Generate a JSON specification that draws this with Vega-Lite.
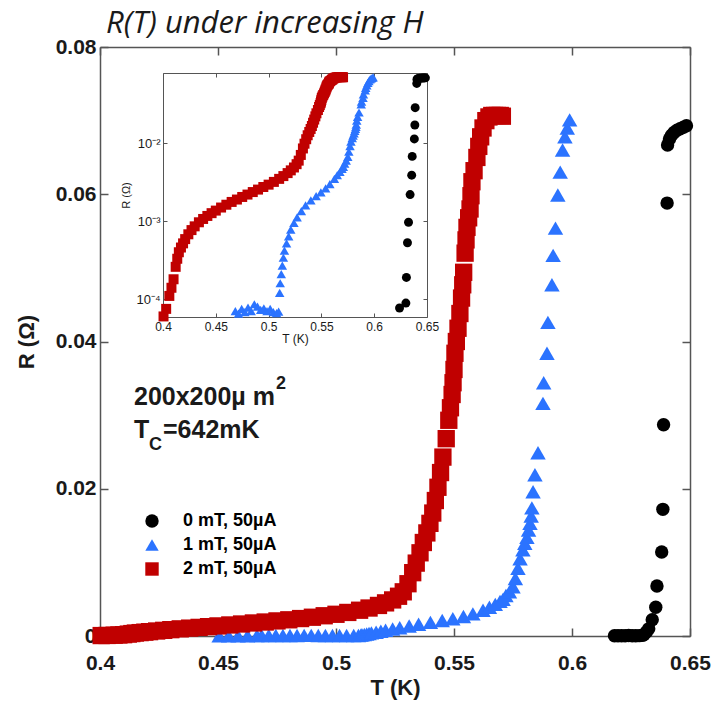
{
"$schema": "https://vega.github.io/schema/vega-lite/v6.json",
"width": 590, "height": 589,
"autosize": {"type": "none"},
"padding": {"left": 100, "top": 47, "right": 23, "bottom": 78},
"title": {"text": "R(T) under increasing H", "anchor": "start", "frame": "group", "font": "Open Sans", "fontStyle": "italic", "fontWeight": "normal", "fontSize": 31, "color": "#1a1a1a", "dx": 6, "dy": 42, "offset": 14, "baseline": "alphabetic"},
"config": {
 "view": {"stroke": null},
 "font": "Liberation Sans",
 "axis": {"grid": false, "domainColor": "#555", "domainWidth": 1.5, "tickColor": "#555", "tickWidth": 1.5, "labelFont": "Liberation Sans", "labelFontWeight": "bold", "labelColor": "#1a1a1a", "titleFont": "Liberation Sans", "titleFontWeight": "bold", "titleColor": "#1a1a1a"}
},
"datasets": {
 "pts": [
  {"series":"0 mT, 50µA","T":0.618,"R":0.00003},{"series":"0 mT, 50µA","T":0.6195,"R":0.00003},{"series":"0 mT, 50µA","T":0.621,"R":0.00003},{"series":"0 mT, 50µA","T":0.6225,"R":0.00004},{"series":"0 mT, 50µA","T":0.624,"R":0.000077},{"series":"0 mT, 50µA","T":0.6255,"R":0.00004},{"series":"0 mT, 50µA","T":0.627,"R":0.000045},{"series":"0 mT, 50µA","T":0.6285,"R":0.00005},{"series":"0 mT, 50µA","T":0.630,"R":0.000089},{"series":"0 mT, 50µA","T":0.6305,"R":0.00019},{"series":"0 mT, 50µA","T":0.6315,"R":0.00053},{"series":"0 mT, 50µA","T":0.6325,"R":0.00097},{"series":"0 mT, 50µA","T":0.634,"R":0.0022},{"series":"0 mT, 50µA","T":0.6355,"R":0.0039},{"series":"0 mT, 50µA","T":0.636,"R":0.0068},{"series":"0 mT, 50µA","T":0.638,"R":0.0114},{"series":"0 mT, 50µA","T":0.6385,"R":0.0172},{"series":"0 mT, 50µA","T":0.6388,"R":0.0287},{"series":"0 mT, 50µA","T":0.6403,"R":0.0588},{"series":"0 mT, 50µA","T":0.6405,"R":0.0667},{"series":"0 mT, 50µA","T":0.6413,"R":0.0675},{"series":"0 mT, 50µA","T":0.6422,"R":0.068},{"series":"0 mT, 50µA","T":0.6432,"R":0.0684},{"series":"0 mT, 50µA","T":0.6445,"R":0.0687},{"series":"0 mT, 50µA","T":0.6458,"R":0.0689},{"series":"0 mT, 50µA","T":0.6472,"R":0.0691},{"series":"0 mT, 50µA","T":0.6485,"R":0.0693},
  {"series":"1 mT, 50µA","T":0.4505,"R":0.00003},{"series":"1 mT, 50µA","T":0.4545,"R":0.00003},{"series":"1 mT, 50µA","T":0.4585,"R":0.000035},{"series":"1 mT, 50µA","T":0.4625,"R":0.00004},{"series":"1 mT, 50µA","T":0.4665,"R":0.00005},{"series":"1 mT, 50µA","T":0.4685,"R":0.00007},{"series":"1 mT, 50µA","T":0.4715,"R":0.000065},{"series":"1 mT, 50µA","T":0.4745,"R":0.000075},{"series":"1 mT, 50µA","T":0.4775,"R":0.000068},{"series":"1 mT, 50µA","T":0.4805,"R":0.000078},{"series":"1 mT, 50µA","T":0.4835,"R":0.00007},{"series":"1 mT, 50µA","T":0.4865,"R":0.000086},{"series":"1 mT, 50µA","T":0.4895,"R":0.00008},{"series":"1 mT, 50µA","T":0.4925,"R":0.000073},{"series":"1 mT, 50µA","T":0.4955,"R":0.000076},{"series":"1 mT, 50µA","T":0.4985,"R":0.00007},{"series":"1 mT, 50µA","T":0.5015,"R":0.000075},{"series":"1 mT, 50µA","T":0.5045,"R":0.000068},{"series":"1 mT, 50µA","T":0.5075,"R":0.000066},{"series":"1 mT, 50µA","T":0.5095,"R":0.000069},
  {"series":"1 mT, 50µA","T":0.5105,"R":0.00012},{"series":"1 mT, 50µA","T":0.511,"R":0.00016},{"series":"1 mT, 50µA","T":0.512,"R":0.00021},{"series":"1 mT, 50µA","T":0.513,"R":0.00027},{"series":"1 mT, 50µA","T":0.514,"R":0.00034},{"series":"1 mT, 50µA","T":0.515,"R":0.00042},{"series":"1 mT, 50µA","T":0.517,"R":0.00052},{"series":"1 mT, 50µA","T":0.519,"R":0.00064},{"series":"1 mT, 50µA","T":0.521,"R":0.00078},{"series":"1 mT, 50µA","T":0.524,"R":0.00095},{"series":"1 mT, 50µA","T":0.527,"R":0.00112},{"series":"1 mT, 50µA","T":0.531,"R":0.00135},{"series":"1 mT, 50µA","T":0.535,"R":0.0016},{"series":"1 mT, 50µA","T":0.540,"R":0.00185},{"series":"1 mT, 50µA","T":0.545,"R":0.0021},{"series":"1 mT, 50µA","T":0.5495,"R":0.00235},{"series":"1 mT, 50µA","T":0.554,"R":0.00265},{"series":"1 mT, 50µA","T":0.558,"R":0.003},{"series":"1 mT, 50µA","T":0.5623,"R":0.0035},{"series":"1 mT, 50µA","T":0.565,"R":0.0039},{"series":"1 mT, 50µA","T":0.5675,"R":0.0043},{"series":"1 mT, 50µA","T":0.5695,"R":0.0047},{"series":"1 mT, 50µA","T":0.5708,"R":0.005},{"series":"1 mT, 50µA","T":0.572,"R":0.0055},{"series":"1 mT, 50µA","T":0.5735,"R":0.006},{"series":"1 mT, 50µA","T":0.575,"R":0.0067},{"series":"1 mT, 50µA","T":0.576,"R":0.0078},{"series":"1 mT, 50µA","T":0.5771,"R":0.0092},{"series":"1 mT, 50µA","T":0.578,"R":0.0105},{"series":"1 mT, 50µA","T":0.5792,"R":0.0117},{"series":"1 mT, 50µA","T":0.58,"R":0.0126},{"series":"1 mT, 50µA","T":0.5809,"R":0.0134},{"series":"1 mT, 50µA","T":0.5816,"R":0.0144},{"series":"1 mT, 50µA","T":0.5822,"R":0.0153},{"series":"1 mT, 50µA","T":0.5827,"R":0.0163},{"series":"1 mT, 50µA","T":0.583,"R":0.0174},{"series":"1 mT, 50µA","T":0.5835,"R":0.0196},{"series":"1 mT, 50µA","T":0.5843,"R":0.0219},{"series":"1 mT, 50µA","T":0.5856,"R":0.0249},{"series":"1 mT, 50µA","T":0.5877,"R":0.0316},{"series":"1 mT, 50µA","T":0.588,"R":0.0344},{"series":"1 mT, 50µA","T":0.5894,"R":0.0384},{"series":"1 mT, 50µA","T":0.5898,"R":0.0426},{"series":"1 mT, 50µA","T":0.5915,"R":0.0477},{"series":"1 mT, 50µA","T":0.592,"R":0.0517},{"series":"1 mT, 50µA","T":0.593,"R":0.0554},{"series":"1 mT, 50µA","T":0.594,"R":0.0599},{"series":"1 mT, 50µA","T":0.595,"R":0.063},{"series":"1 mT, 50µA","T":0.596,"R":0.066},{"series":"1 mT, 50µA","T":0.597,"R":0.0678},{"series":"1 mT, 50µA","T":0.598,"R":0.069},{"series":"1 mT, 50µA","T":0.599,"R":0.0701},
  {"series":"2 mT, 50µA","T":0.4005,"R":0.00006},{"series":"2 mT, 50µA","T":0.403,"R":0.000075},{"series":"2 mT, 50µA","T":0.406,"R":0.00011},{"series":"2 mT, 50µA","T":0.408,"R":0.00014},{"series":"2 mT, 50µA","T":0.41,"R":0.00018},{"series":"2 mT, 50µA","T":0.412,"R":0.00026},{"series":"2 mT, 50µA","T":0.4135,"R":0.00033},{"series":"2 mT, 50µA","T":0.415,"R":0.0004},{"series":"2 mT, 50µA","T":0.417,"R":0.00046},{"series":"2 mT, 50µA","T":0.419,"R":0.00052},{"series":"2 mT, 50µA","T":0.421,"R":0.00059},{"series":"2 mT, 50µA","T":0.424,"R":0.00068},{"series":"2 mT, 50µA","T":0.427,"R":0.00077},{"series":"2 mT, 50µA","T":0.43,"R":0.00086},{"series":"2 mT, 50µA","T":0.434,"R":0.00097},{"series":"2 mT, 50µA","T":0.438,"R":0.00107},{"series":"2 mT, 50µA","T":0.442,"R":0.00117},{"series":"2 mT, 50µA","T":0.446,"R":0.00127},{"series":"2 mT, 50µA","T":0.45,"R":0.00137},{"series":"2 mT, 50µA","T":0.455,"R":0.0015},{"series":"2 mT, 50µA","T":0.46,"R":0.00163},{"series":"2 mT, 50µA","T":0.465,"R":0.00177},{"series":"2 mT, 50µA","T":0.47,"R":0.0019},{"series":"2 mT, 50µA","T":0.475,"R":0.00205},{"series":"2 mT, 50µA","T":0.48,"R":0.0022},{"series":"2 mT, 50µA","T":0.485,"R":0.00237},{"series":"2 mT, 50µA","T":0.49,"R":0.00255},{"series":"2 mT, 50µA","T":0.495,"R":0.00275},{"series":"2 mT, 50µA","T":0.5,"R":0.00295},{"series":"2 mT, 50µA","T":0.505,"R":0.0032},{"series":"2 mT, 50µA","T":0.51,"R":0.0035},{"series":"2 mT, 50µA","T":0.514,"R":0.0038},{"series":"2 mT, 50µA","T":0.518,"R":0.00415},{"series":"2 mT, 50µA","T":0.521,"R":0.0045},{"series":"2 mT, 50µA","T":0.524,"R":0.0049},{"series":"2 mT, 50µA","T":0.5265,"R":0.0054},{"series":"2 mT, 50µA","T":0.5285,"R":0.006},{"series":"2 mT, 50µA","T":0.5305,"R":0.0071},{"series":"2 mT, 50µA","T":0.5325,"R":0.0086},{"series":"2 mT, 50µA","T":0.534,"R":0.0099},{"series":"2 mT, 50µA","T":0.5356,"R":0.0113},{"series":"2 mT, 50µA","T":0.537,"R":0.0127},{"series":"2 mT, 50µA","T":0.5385,"R":0.014},{"series":"2 mT, 50µA","T":0.5398,"R":0.0153},{"series":"2 mT, 50µA","T":0.541,"R":0.0167},{"series":"2 mT, 50µA","T":0.5421,"R":0.0184},{"series":"2 mT, 50µA","T":0.5432,"R":0.0202},{"series":"2 mT, 50µA","T":0.5443,"R":0.0222},{"series":"2 mT, 50µA","T":0.5453,"R":0.0243},{"series":"2 mT, 50µA","T":0.5467,"R":0.0268},{"series":"2 mT, 50µA","T":0.5478,"R":0.0293},{"series":"2 mT, 50µA","T":0.5485,"R":0.031},{"series":"2 mT, 50µA","T":0.5492,"R":0.0328},{"series":"2 mT, 50µA","T":0.5496,"R":0.0344},{"series":"2 mT, 50µA","T":0.55,"R":0.0362},{"series":"2 mT, 50µA","T":0.5504,"R":0.0384},{"series":"2 mT, 50µA","T":0.551,"R":0.04},{"series":"2 mT, 50µA","T":0.5517,"R":0.0418},{"series":"2 mT, 50µA","T":0.5525,"R":0.0438},{"series":"2 mT, 50µA","T":0.5532,"R":0.0459},{"series":"2 mT, 50µA","T":0.5537,"R":0.0477},{"series":"2 mT, 50µA","T":0.5541,"R":0.0494},{"series":"2 mT, 50µA","T":0.5547,"R":0.052},{"series":"2 mT, 50µA","T":0.5551,"R":0.0538},{"series":"2 mT, 50µA","T":0.5555,"R":0.0555},{"series":"2 mT, 50µA","T":0.5562,"R":0.0568},{"series":"2 mT, 50µA","T":0.5568,"R":0.058},{"series":"2 mT, 50µA","T":0.5572,"R":0.0598},{"series":"2 mT, 50µA","T":0.5576,"R":0.0617},{"series":"2 mT, 50µA","T":0.5585,"R":0.0632},{"series":"2 mT, 50µA","T":0.5597,"R":0.065},{"series":"2 mT, 50µA","T":0.5605,"R":0.0665},{"series":"2 mT, 50µA","T":0.5613,"R":0.0678},{"series":"2 mT, 50µA","T":0.5623,"R":0.069},{"series":"2 mT, 50µA","T":0.5635,"R":0.07},{"series":"2 mT, 50µA","T":0.5648,"R":0.0705},{"series":"2 mT, 50µA","T":0.566,"R":0.0707},{"series":"2 mT, 50µA","T":0.5672,"R":0.0707},{"series":"2 mT, 50µA","T":0.5684,"R":0.0707},{"series":"2 mT, 50µA","T":0.5696,"R":0.0707},{"series":"2 mT, 50µA","T":0.5705,"R":0.0706}
 ],
 "notesBig": [
  {"label":"200x200µ m","T":0.4144,"R":0.0314},
  {"label":"T","T":0.4144,"R":0.0269},
  {"label":"=642mK","T":0.4267,"R":0.0269}
 ],
 "notesSmall": [
  {"label":"2","T":0.4746,"R":0.0336},
  {"label":"C","T":0.4208,"R":0.0253}
 ]
},
"layer": [
 {
  "layer": [
   {
    "data": {"name": "pts"},
    "mark": {"type": "point", "filled": true, "opacity": 1, "strokeWidth": 0},
    "encoding": {
     "x": {"field": "T", "type": "quantitative", "scale": {"domain": [0.4, 0.65], "nice": false, "zero": false},
           "axis": {"orient": "bottom", "values": [0.4, 0.45, 0.5, 0.55, 0.6, 0.65], "format": ".2~f", "labelFontSize": 21, "tickSize": -8, "labelPadding": 24, "labelFlush": false, "title": "T (K)", "titleFontSize": 22, "titlePadding": 4}},
     "y": {"field": "R", "type": "quantitative", "scale": {"domain": [0, 0.08], "nice": false, "zero": false},
           "axis": {"orient": "left", "values": [0, 0.02, 0.04, 0.06, 0.08], "format": ".2~f", "labelFontSize": 21, "tickSize": -8, "labelPadding": 12, "labelFlush": false, "title": "R (Ω)", "titleFontSize": 22, "titlePadding": 17}},
     "color": {"field": "series", "type": "nominal", "scale": {"domain": ["0 mT, 50µA", "1 mT, 50µA", "2 mT, 50µA"], "range": ["#000000", "#2B73FF", "#C00000"]},
               "legend": {"orient": "none", "legendX": 43, "legendY": 465, "title": null, "symbolSize": 180, "labelFontSize": 18, "labelFontWeight": "bold", "labelFont": "Liberation Sans", "labelOffset": 22, "rowPadding": 6, "symbolStrokeWidth": 0, "padding": 0,
                          "encode": {"labels": {"update": {"fill": {"signal": "scale('color', datum.value)"}}}}}},
     "shape": {"field": "series", "type": "nominal", "scale": {"domain": ["0 mT, 50µA", "1 mT, 50µA", "2 mT, 50µA"], "range": ["circle", "triangle-up", "square"]}},
     "size": {"field": "series", "type": "nominal", "scale": {"domain": ["0 mT, 50µA", "1 mT, 50µA", "2 mT, 50µA"], "range": [180, 300, 256]}, "legend": null}
    }
   },
   {
    "data": {"name": "pts"},
    "mark": {"type": "point", "opacity": 0},
    "encoding": {
     "x": {"field": "T", "type": "quantitative", "axis": {"orient": "top", "values": [0.4, 0.45, 0.5, 0.55, 0.6, 0.65], "labels": false, "tickSize": -8, "title": null}},
     "y": {"field": "R", "type": "quantitative", "axis": {"orient": "right", "values": [0, 0.02, 0.04, 0.06, 0.08], "labels": false, "tickSize": -8, "title": null}}
    }
   },
   {
    "data": {"name": "notesBig"},
    "mark": {"type": "text", "align": "left", "baseline": "alphabetic", "font": "Liberation Sans", "fontWeight": "bold", "fontSize": 25, "color": "#1a1a1a"},
    "encoding": {
     "x": {"field": "T", "type": "quantitative", "axis": null},
     "y": {"field": "R", "type": "quantitative", "axis": null},
     "text": {"field": "label"}
    }
   },
   {
    "data": {"name": "notesSmall"},
    "mark": {"type": "text", "align": "left", "baseline": "alphabetic", "font": "Liberation Sans", "fontWeight": "bold", "fontSize": 18, "color": "#1a1a1a"},
    "encoding": {
     "x": {"field": "T", "type": "quantitative", "axis": null},
     "y": {"field": "R", "type": "quantitative", "axis": null},
     "text": {"field": "label"}
    }
   }
  ],
  "resolve": {"axis": {"x": "independent", "y": "independent"}}
 },
 {
  "layer": [
   {
    "data": {"name": "pts"},
    "transform": [{"filter": "datum.R >= 0.000059"}],
    "mark": {"type": "point", "filled": true, "opacity": 1, "strokeWidth": 0},
    "encoding": {
     "x": {"field": "T", "type": "quantitative", "scale": {"domain": [0.4, 0.65], "nice": false, "zero": false, "range": [63, 327]},
           "axis": {"orient": "bottom", "offset": -319, "values": [0.4, 0.45, 0.5, 0.55, 0.6, 0.65], "format": ".2~f", "labelFontSize": 12, "labelFontWeight": "normal", "tickSize": -4, "tickWidth": 1, "domainWidth": 1, "labelPadding": 8, "labelFlush": false, "title": "T (K)", "titleFontSize": 12, "titleFontWeight": "normal", "titlePadding": 1}},
     "y": {"field": "R", "type": "quantitative", "scale": {"type": "log", "domain": [0.000059, 0.08], "nice": false, "range": [270, 26]},
           "axis": {"orient": "left", "offset": -63, "values": [0.0001, 0.001, 0.01], "labelExpr": "datum.value < 0.0005 ? '10⁻⁴' : datum.value < 0.005 ? '10⁻³' : '10⁻²'", "labelFontSize": 13, "labelFontWeight": "normal", "tickSize": -4, "tickWidth": 1, "domainWidth": 1, "labelPadding": 7, "labelFlush": false, "title": "R (Ω)", "titleFontSize": 11, "titleFontWeight": "normal", "titlePadding": 4}},
     "color": {"field": "series", "type": "nominal"},
     "shape": {"field": "series", "type": "nominal"},
     "size": {"field": "series", "type": "nominal", "scale": {"domain": ["0 mT, 50µA", "1 mT, 50µA", "2 mT, 50µA"], "range": [80, 100, 130]}, "legend": null}
    }
   },
   {
    "data": {"name": "pts"},
    "transform": [{"filter": "datum.R >= 0.000059"}],
    "mark": {"type": "point", "opacity": 0},
    "encoding": {
     "x": {"field": "T", "type": "quantitative", "axis": {"orient": "top", "offset": -26, "values": [0.4, 0.45, 0.5, 0.55, 0.6, 0.65], "labels": false, "tickSize": -4, "tickWidth": 1, "domainWidth": 1, "title": null}},
     "y": {"field": "R", "type": "quantitative", "axis": {"orient": "right", "offset": -263, "values": [0.0001, 0.001, 0.01], "labels": false, "tickSize": -4, "tickWidth": 1, "domainWidth": 1, "title": null}}
    }
   }
  ],
  "resolve": {"axis": {"x": "independent", "y": "independent"}}
 }
],
"resolve": {"scale": {"x": "independent", "y": "independent", "size": "independent"}}
}
